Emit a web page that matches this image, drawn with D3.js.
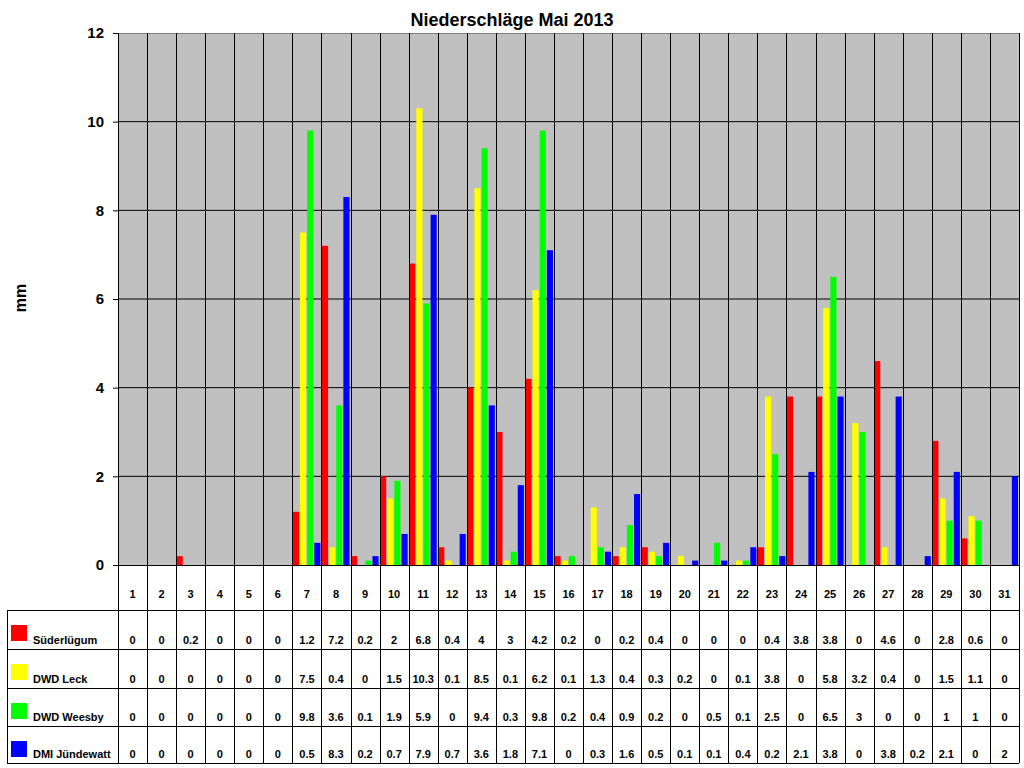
<!DOCTYPE html>
<html>
<head>
<meta charset="utf-8">
<script src="https://cdn.jsdelivr.net/npm/d3@7"></script>
<style>
  body { margin: 0; background: #fff; }
  text { font-family: "Liberation Sans", Arial, sans-serif; font-weight: bold; fill: #000; }
</style>
</head>
<body>
<div id="container"></div>
<script>
// Niederschläge Mai 2013 - grouped bars with data table underneath

const days = d3.range(1, 32).map(String)
const seriesNames = ["Süderlügum", "DWD Leck", "DWD Weesby", "DMI Jündewatt"]
const seriesColors = ["#ff0000", "#ffff00", "#00ff00", "#0000ff"]

const suederluegum = [0, 0, 0.2, 0, 0, 0, 1.2, 7.2, 0.2, 2, 6.8, 0.4, 4, 3, 4.2, 0.2, 0, 0.2, 0.4, 0, 0, 0, 0.4, 3.8, 3.8, 0, 4.6, 0, 2.8, 0.6, 0]
const leck = [0, 0, 0, 0, 0, 0, 7.5, 0.4, 0, 1.5, 10.3, 0.1, 8.5, 0.1, 6.2, 0.1, 1.3, 0.4, 0.3, 0.2, 0, 0.1, 3.8, 0, 5.8, 3.2, 0.4, 0, 1.5, 1.1, 0]
const weesby = [0, 0, 0, 0, 0, 0, 9.8, 3.6, 0.1, 1.9, 5.9, 0, 9.4, 0.3, 9.8, 0.2, 0.4, 0.9, 0.2, 0, 0.5, 0.1, 2.5, 0, 6.5, 3, 0, 0, 1, 1, 0]
const juendewatt = [0, 0, 0, 0, 0, 0, 0.5, 8.3, 0.2, 0.7, 7.9, 0.7, 3.6, 1.8, 7.1, 0, 0.3, 1.6, 0.5, 0.1, 0.1, 0.4, 0.2, 2.1, 3.8, 0, 3.8, 0.2, 2.1, 0, 2]

const yTicks = [0, 2, 4, 6, 8, 10, 12]

const seriesValues = [suederluegum, leck, weesby, juendewatt]

const width = 1024, height = 768
const plot = { left: 118, right: 1019, top: 33, bottom: 565 }
const tableLeft = 7
const headerBottom = 610
const rowLines = [610, 649, 688, 726, 763]

const svg = d3.select("#container").append("svg")
    .attr("width", width)
    .attr("height", height)

const x0 = d3.scaleBand().domain(days).range([plot.left, plot.right])
const x1 = d3.scaleBand().domain(seriesNames).range([0.5, x0.bandwidth() - 1]).paddingInner(0.14)
const y = d3.scaleLinear().domain([0, 12]).range([plot.bottom, plot.top])

// plot background
svg.append("rect")
    .attr("x", plot.left).attr("y", plot.top)
    .attr("width", plot.right - plot.left).attr("height", plot.bottom - plot.top)
    .attr("fill", "#c0c0c0")

// horizontal grid
svg.append("g").selectAll("line")
    .data(yTicks.filter(d => d > 0 && d < 12))
    .join("line")
    .attr("x1", plot.left).attr("x2", plot.right)
    .attr("y1", d => y(d)).attr("y2", d => y(d))
    .attr("stroke", "#000").attr("stroke-width", 1)

svg.append("line")
    .attr("x1", plot.left).attr("x2", plot.right)
    .attr("y1", plot.top + 0.5).attr("y2", plot.top + 0.5)
    .attr("stroke", "#808080")

// bars
const groups = svg.append("g").selectAll("g")
    .data(days)
    .join("g")
    .attr("transform", d => `translate(${x0(d)},0)`)

groups.selectAll("rect")
    .data((d, i) => seriesNames.map((s, k) => ({ s, k, v: seriesValues[k][i] })))
    .join("rect")
    .attr("x", d => x1(d.s))
    .attr("width", x1.bandwidth())
    .attr("y", d => y(d.v))
    .attr("height", d => y(0) - y(d.v))
    .attr("fill", d => seriesColors[d.k])

// vertical lines between days (through plot and table)
const bounds = days.map(d => x0(d)).concat([plot.right])
svg.append("g").selectAll("line")
    .data(bounds)
    .join("line")
    .attr("x1", d => Math.round(d) + 0.5).attr("x2", d => Math.round(d) + 0.5)
    .attr("y1", plot.top).attr("y2", rowLines[rowLines.length - 1])
    .attr("stroke", "#000")

// y axis
const yAxis = svg.append("g")
    .attr("transform", `translate(${plot.left},0)`)
    .call(d3.axisLeft(y).tickValues(yTicks).tickSize(5).tickPadding(9).tickFormat(d3.format("d")))
yAxis.select(".domain").remove()
yAxis.selectAll("line").attr("stroke", "#000")
yAxis.selectAll("text")
    .style("font-size", "15px")
    .style("font-family", '"Liberation Sans", Arial, sans-serif')
    .style("font-weight", "bold")
    .attr("fill", "#000")

// zero line
svg.append("line")
    .attr("x1", plot.left).attr("x2", plot.right)
    .attr("y1", y(0) + 0.5).attr("y2", y(0) + 0.5)
    .attr("stroke", "#000")

// title and y label
svg.append("text")
    .attr("x", 512).attr("y", 26)
    .attr("text-anchor", "middle")
    .style("font-size", "18px")
    .text("Niederschläge Mai 2013")

svg.append("text")
    .attr("transform", "translate(26,298) rotate(-90)")
    .attr("text-anchor", "middle")
    .style("font-size", "16px")
    .text("mm")

// table lines
svg.append("g").selectAll("line")
    .data(rowLines)
    .join("line")
    .attr("x1", tableLeft).attr("x2", plot.right)
    .attr("y1", d => d + 0.5).attr("y2", d => d + 0.5)
    .attr("stroke", "#000")

svg.append("line")
    .attr("x1", tableLeft + 0.5).attr("x2", tableLeft + 0.5)
    .attr("y1", headerBottom).attr("y2", rowLines[rowLines.length - 1])
    .attr("stroke", "#000")

// day numbers
svg.append("g").selectAll("text")
    .data(days)
    .join("text")
    .attr("x", d => x0(d) + x0.bandwidth() / 2)
    .attr("y", 598)
    .attr("text-anchor", "middle")
    .style("font-size", "11px")
    .text(d => d)

// legend cells and values
seriesNames.forEach((name, k) => {
    const top = rowLines[k], bottom = rowLines[k + 1]
    const row = svg.append("g")
    row.append("rect")
        .attr("x", 11).attr("y", top + 15)
        .attr("width", 16).attr("height", 16)
        .attr("fill", seriesColors[k])
    row.append("text")
        .attr("x", 33).attr("y", bottom - 5)
        .style("font-size", "11px")
        .text(name)
    row.selectAll("text.val")
        .data(seriesValues[k])
        .join("text")
        .attr("class", "val")
        .attr("x", (d, i) => x0(days[i]) + x0.bandwidth() / 2)
        .attr("y", bottom - 5)
        .attr("text-anchor", "middle")
        .style("font-size", "11px")
        .text(d => d)
})
</script>
</body>
</html>
